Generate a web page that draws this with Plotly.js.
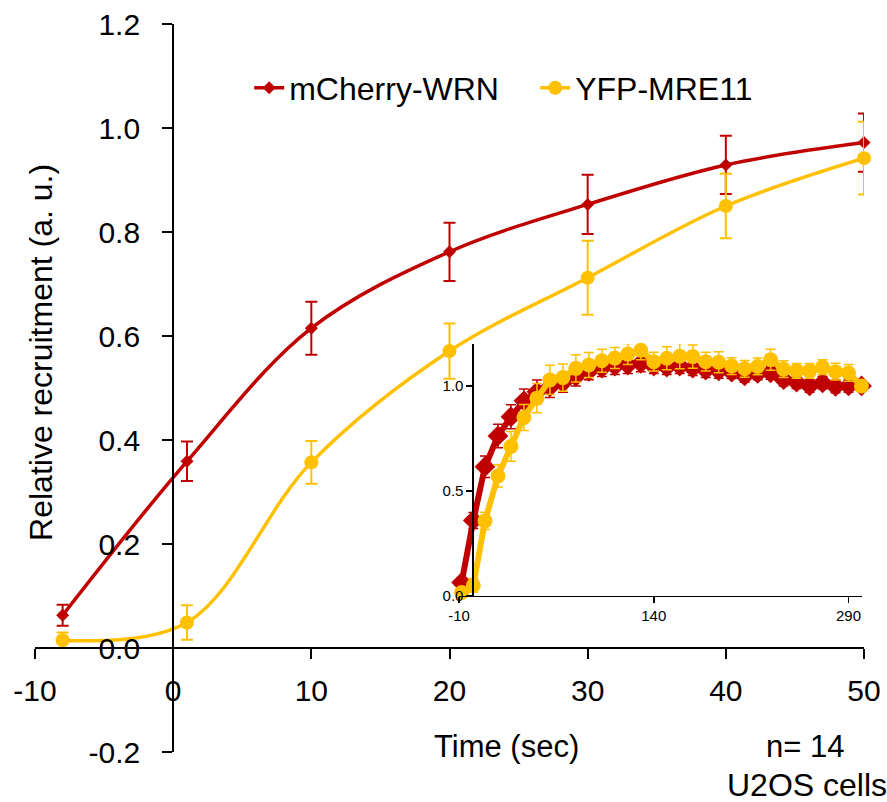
<!DOCTYPE html>
<html>
<head>
<meta charset="utf-8">
<script src="https://cdn.plot.ly/plotly-3.0.1.min.js"></script>
<style>html,body{margin:0;padding:0;background:#fff;}#chart{width:887px;height:802px;}</style>
</head>
<body>
<div id="chart"></div>
<script>
// ---- data ----
const time = [-8, 1, 10, 20, 30, 40, 50, 60, 70, 80, 90, 100, 110, 120, 130, 140, 150, 160, 170, 180, 190, 200, 210, 220, 230, 240, 250, 260, 270, 280, 290, 300];
const wrn = [0.063, 0.359, 0.615, 0.762, 0.853, 0.929, 0.972, 0.995, 1.015, 1.045, 1.07, 1.085, 1.095, 1.1, 1.108, 1.095, 1.09, 1.095, 1.085, 1.076, 1.072, 1.066, 1.048, 1.06, 1.062, 1.03, 1.018, 1.0, 1.015, 0.998, 1.0, 1.0];
const wrnErr = [0.02, 0.038, 0.051, 0.056, 0.057, 0.056, 0.056, 0.05, 0.045, 0.045, 0.04, 0.04, 0.04, 0.04, 0.04, 0.035, 0.035, 0.035, 0.035, 0.035, 0.035, 0.03, 0.03, 0.03, 0.03, 0.03, 0.03, 0.03, 0.03, 0.03, 0.03, 0];
const mre = [0.015, 0.049, 0.357, 0.571, 0.712, 0.85, 0.942, 1.029, 1.04, 1.084, 1.1, 1.12, 1.133, 1.152, 1.17, 1.116, 1.132, 1.142, 1.14, 1.116, 1.113, 1.095, 1.082, 1.093, 1.125, 1.08, 1.072, 1.072, 1.09, 1.068, 1.062, 1.0];
const mreErr = [0.015, 0.033, 0.041, 0.053, 0.071, 0.062, 0.07, 0.07, 0.065, 0.065, 0.06, 0.055, 0.05, 0.05, 0.045, 0.045, 0.055, 0.06, 0.055, 0.045, 0.05, 0.04, 0.04, 0.04, 0.05, 0.04, 0.035, 0.035, 0.035, 0.04, 0.04, 0];
const seriesNames = ['mCherry-WRN', 'YFP-MRE11'];
const mainTimeMax = 50;

const xTickVals = [-10, 0, 10, 20, 30, 40, 50];
const xTickText = ['-10', '0', '10', '20', '30', '40', '50'];
const yTickVals = [-0.2, 0, 0.2, 0.4, 0.6, 0.8, 1.0, 1.2];
const yTickText = ['-0.2', '0.0', '0.2', '0.4', '0.6', '0.8', '1.0', '1.2'];
const insetXTickVals = [-10, 140, 290];
const insetXTickText = ['-10', '140', '290'];
const insetYTickVals = [0, 0.5, 1.0];
const insetYTickText = ['0.0', '0.5', '1.0'];

// ---- styling ----
const RED = '#C00000', YEL = '#FFC000';
const FONT = 'Liberation Sans, Arial, sans-serif';
const idx = time.map((t, i) => i).filter(i => time[i] <= mainTimeMax);
const pick = (arr) => idx.map(i => arr[i]);

const traces = [
  {x: pick(time), y: pick(wrn), name: seriesNames[0], type: 'scatter', mode: 'lines+markers',
   line: {color: RED, width: 3.5, shape: 'spline', smoothing: 1},
   marker: {symbol: 'diamond', size: 10, color: RED},
   error_y: {type: 'data', array: pick(wrnErr), visible: true, color: RED, thickness: 2, width: 6},
   cliponaxis: false, xaxis: 'x', yaxis: 'y'},
  {x: pick(time), y: pick(mre), name: seriesNames[1], type: 'scatter', mode: 'lines+markers',
   line: {color: YEL, width: 3.5, shape: 'spline', smoothing: 1},
   marker: {symbol: 'circle', size: 14, color: YEL},
   error_y: {type: 'data', array: pick(mreErr), visible: true, color: YEL, thickness: 2, width: 6},
   cliponaxis: false, xaxis: 'x', yaxis: 'y'},
  {x: time, y: wrn, name: seriesNames[0], type: 'scatter', mode: 'lines+markers', showlegend: false,
   line: {color: RED, width: 6},
   marker: {symbol: 'diamond', size: 16, color: RED},
   error_y: {type: 'data', array: wrnErr, visible: true, color: RED, thickness: 1.5, width: 5},
   cliponaxis: false, xaxis: 'x2', yaxis: 'y2'},
  {x: time, y: mre, name: seriesNames[1], type: 'scatter', mode: 'lines+markers', showlegend: false,
   line: {color: YEL, width: 6},
   marker: {symbol: 'circle', size: 15, color: YEL},
   error_y: {type: 'data', array: mreErr, visible: true, color: YEL, thickness: 1.5, width: 5},
   cliponaxis: false, xaxis: 'x2', yaxis: 'y2'}
];

const layout = {
  width: 887, height: 802,
  margin: {l: 35, r: 23, t: 24, b: 50, pad: 0, autoexpand: false},
  paper_bgcolor: '#fff', plot_bgcolor: 'rgba(0,0,0,0)',
  font: {family: FONT, color: '#000', size: 30},
  showlegend: true,
  legend: {orientation: 'h', x: 0.2584, y: 0.912, xanchor: 'left', yanchor: 'middle',
           font: {family: FONT, size: 32, color: '#000'}, bgcolor: 'rgba(0,0,0,0)', itemwidth: 30,
           entrywidth: 241, entrywidthmode: 'pixels', traceorder: 'normal'},
  xaxis: {range: [-10, 50], anchor: 'free', position: 0.2 / 1.4, showline: true, linecolor: '#000', linewidth: 2,
          ticks: 'outside', ticklen: 10, tickwidth: 2, tickcolor: '#000', tickmode: 'array',
          tickvals: xTickVals, ticktext: xTickText, tickfont: {size: 30}, showgrid: false, zeroline: false,
          ticklabelstandoff: 6, automargin: false},
  yaxis: {range: [-0.2, 1.2], anchor: 'free', position: 10 / 60, showline: true, linecolor: '#000', linewidth: 2,
          ticks: 'outside', ticklen: 10, tickwidth: 2, tickcolor: '#000', tickmode: 'array',
          tickvals: yTickVals, ticktext: yTickText, tickfont: {size: 30}, showgrid: false, zeroline: false,
          ticklabelstandoff: 16, automargin: false},
  xaxis2: {domain: [0.5115, 0.997], range: [-10, 300], anchor: 'y2', showline: true, linecolor: '#000', linewidth: 1.5,
           ticks: 'outside', ticklen: 6, tickwidth: 1.5, tickcolor: '#000', tickmode: 'array',
           tickvals: insetXTickVals, ticktext: insetXTickText, tickfont: {size: 15}, showgrid: false, zeroline: false},
  yaxis2: {domain: [0.2147, 0.5604], range: [0, 1.2], anchor: 'free', position: 0.5277, showline: true, linecolor: '#000', linewidth: 1.5,
           ticks: 'outside', ticklen: 6, tickwidth: 1.5, tickcolor: '#000', tickmode: 'array',
           tickvals: insetYTickVals, ticktext: insetYTickText, tickfont: {size: 15}, showgrid: false, zeroline: false},
  annotations: [
    {text: 'Relative recruitment (a. u.)', xref: 'paper', yref: 'paper', x: 0.0072, y: 0.5495, textangle: -90,
     showarrow: false, xanchor: 'center', yanchor: 'middle', font: {size: 32}},
    {text: 'Time (sec)', xref: 'paper', yref: 'paper', x: 0.5684, y: 0.0082, showarrow: false,
     xanchor: 'center', yanchor: 'middle', font: {size: 31}},
    {text: 'n= 14', xref: 'paper', yref: 'paper', x: 0.929, y: 0.0082, showarrow: false,
     xanchor: 'center', yanchor: 'middle', font: {size: 31}},
    {text: 'U2OS cells', xref: 'paper', yref: 'paper', x: 0.9316, y: -0.0453, showarrow: false,
     xanchor: 'center', yanchor: 'middle', font: {size: 32}}
  ]
};

Plotly.newPlot('chart', traces, layout, {staticPlot: true, displayModeBar: false});
</script>
</body>
</html>
